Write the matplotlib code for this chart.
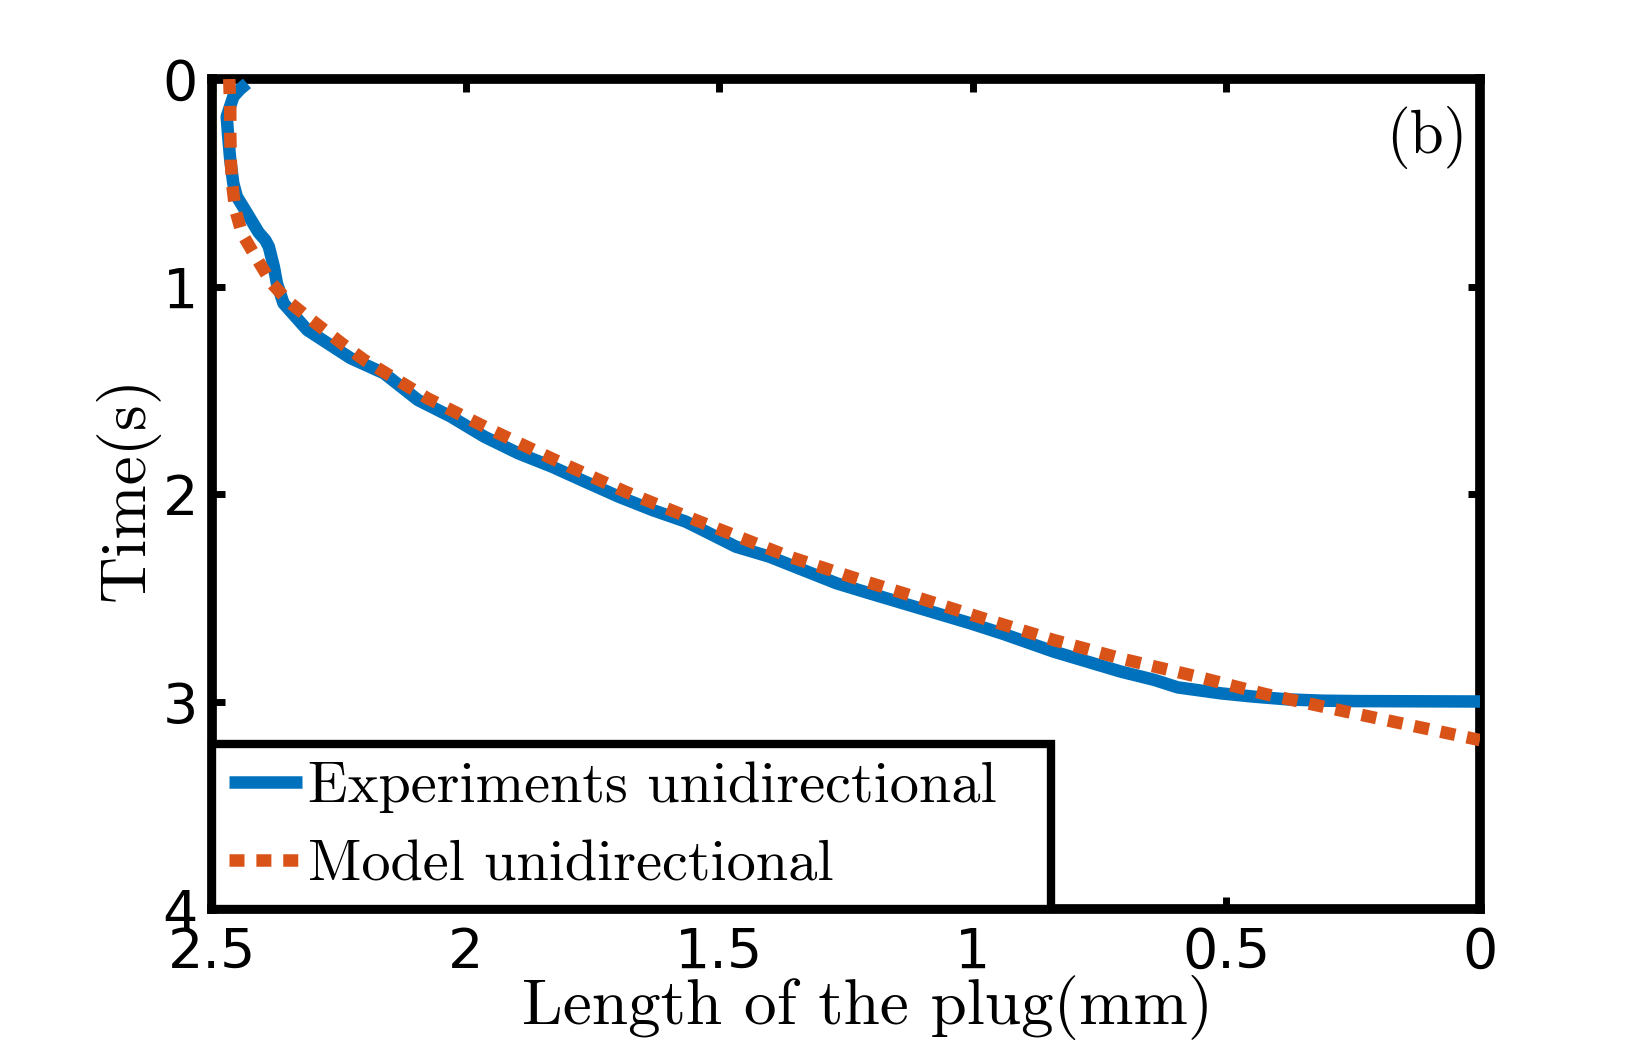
import matplotlib
matplotlib.use("Agg")
import matplotlib.pyplot as plt
import numpy as np

# ---- data ----
exp_length = [2.431, 2.445, 2.458, 2.471, 2.468, 2.464, 2.458, 2.451, 2.431, 2.408,
              2.395, 2.388, 2.378, 2.372, 2.359, 2.312, 2.227, 2.161, 2.094, 2.029,
              1.963, 1.896, 1.830, 1.764, 1.698, 1.632, 1.566, 1.533, 1.467, 1.401,
              1.335, 1.269, 1.203, 1.137, 1.071, 1.005, 0.939, 0.840, 0.774, 0.708,
              0.642, 0.596, 0.510, 0.444, 0.378, 0.312, 0.246, 0.0]
exp_time = [0.021, 0.050, 0.085, 0.182, 0.278, 0.390, 0.503, 0.567, 0.647, 0.740,
            0.776, 0.808, 0.905, 0.985, 1.081, 1.210, 1.345, 1.418, 1.547, 1.627,
            1.724, 1.804, 1.868, 1.941, 2.013, 2.077, 2.133, 2.173, 2.254, 2.302,
            2.366, 2.430, 2.479, 2.527, 2.575, 2.623, 2.675, 2.760, 2.808, 2.856,
            2.896, 2.932, 2.961, 2.977, 2.990, 2.996, 2.998, 3.000]

model_length = [2.466, 2.464, 2.464, 2.463, 2.460, 2.454, 2.441, 2.418, 2.382, 2.349,
                2.312, 2.240, 2.200, 2.075, 1.949, 1.817, 1.685, 1.547, 1.500, 1.362,
                1.210, 1.104, 0.959, 0.840, 0.701, 0.563, 0.424, 0.279, 0.0]
model_time = [0.000, 0.149, 0.261, 0.390, 0.511, 0.631, 0.744, 0.840, 0.985, 1.073,
              1.146, 1.282, 1.354, 1.539, 1.692, 1.844, 1.989, 2.125, 2.170, 2.302,
              2.423, 2.503, 2.615, 2.704, 2.797, 2.877, 2.964, 3.041, 3.186]

x_ticks = [2.5, 2, 1.5, 1, 0.5, 0]
x_tick_labels = ["2.5", "2", "1.5", "1", "0.5", "0"]
y_ticks = [0, 1, 2, 3, 4]
y_tick_labels = ["0", "1", "2", "3", "4"]

labels = ["Experiments unidirectional", "Model unidirectional"]
xlabel = "Length of the plug(mm)"
ylabel = "Time(s)"
panel = "(b)"

BLUE = "#0072BD"
ORANGE = "#D95319"
CM = "cmr10"
TICKFONT = "DejaVu Sans"

fig = plt.figure(figsize=(16.36, 10.63), dpi=100)
ax = fig.add_axes([212/1636, 1 - 909/1063, (1480-212)/1636, (909-79)/1063])

ax.plot(exp_length, exp_time, color=BLUE, lw=9, solid_joinstyle="round",
        solid_capstyle="butt", label=labels[0], zorder=3)
ax.plot(model_length, model_time, color=ORANGE, lw=9, linestyle=(0, (1.2, 0.95)),
        dash_capstyle="butt", label=labels[1], zorder=4)

ax.set_xlim(2.5, 0)
ax.set_ylim(4, 0)
ax.set_xticks(x_ticks)
ax.set_xticklabels(x_tick_labels, fontfamily=TICKFONT, fontsize=40)
ax.set_yticks(y_ticks)
ax.set_yticklabels(y_tick_labels, fontfamily=TICKFONT, fontsize=40)
ax.tick_params(direction="in", length=9, width=5, top=True, right=True,
               color="black")
ax.tick_params(axis="x", pad=12)
ax.tick_params(axis="y", pad=10)
for s in ax.spines.values():
    s.set_linewidth(7)
    s.set_color("black")

ax.set_xlabel(xlabel, fontfamily=CM, fontsize=47)
ax.xaxis.set_label_coords(0.517, -0.080)
ax.set_ylabel(ylabel, fontfamily=CM, fontsize=47)
ax.yaxis.set_label_coords(-0.041, 0.507)

ax.text(0.99, 0.967, panel, transform=ax.transAxes, ha="right", va="top",
        fontfamily=CM, fontsize=44)

leg = ax.legend(loc="lower left", bbox_to_anchor=(0, 0, (1051-212)/1268, 1),
                mode="expand", borderaxespad=0, prop={"family": CM, "size": 42},
                handlelength=1.25, handletextpad=0.1, borderpad=0.3,
                labelspacing=0.45, fancybox=False, framealpha=1)
leg.get_frame().set_edgecolor("black")
leg.get_frame().set_linewidth(6)
leg.set_zorder(10)

fig.savefig("out.png", dpi=100)
